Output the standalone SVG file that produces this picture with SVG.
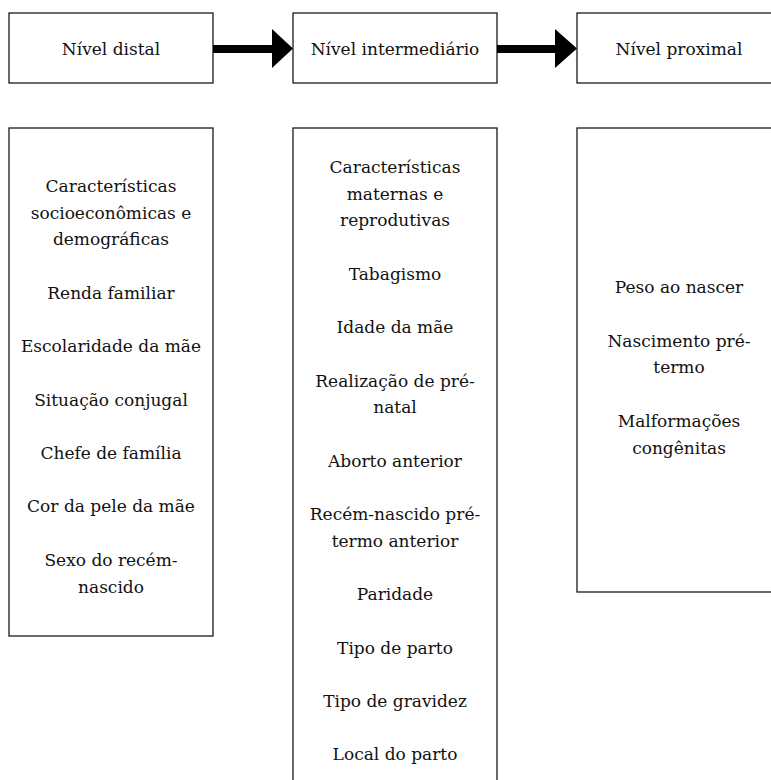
<svg xmlns="http://www.w3.org/2000/svg" width="771" height="780" viewBox="0 0 771 780">
<style>
.box{fill:#fff;stroke:#1a1a1a;stroke-width:1.3}
.t{font-family:"DejaVu Serif","Liberation Serif",serif;font-size:17px;fill:#111;text-anchor:middle}
.arr{fill:#000}
</style>
<rect width="771" height="780" fill="#fff"/>
<g id="node-distal">
<rect class="box" x="9" y="13" width="204" height="70"/>
<text class="t" x="111" y="55">Nível distal</text>
</g>
<g id="node-intermediario">
<rect class="box" x="293" y="13" width="204" height="70"/>
<text class="t" x="395" y="55">Nível intermediário</text>
</g>
<g id="node-proximal">
<rect class="box" x="577" y="13" width="204" height="70"/>
<text class="t" x="679" y="55">Nível proximal</text>
</g>
<g id="list-distal">
<rect class="box" x="9" y="128" width="204" height="508"/>
<text class="t" x="111" y="192">Características</text>
<text class="t" x="111" y="218.7">socioeconômicas e</text>
<text class="t" x="111" y="245.4">demográficas</text>
<text class="t" x="111" y="298.8">Renda familiar</text>
<text class="t" x="111" y="352.2">Escolaridade da mãe</text>
<text class="t" x="111" y="405.6">Situação conjugal</text>
<text class="t" x="111" y="459">Chefe de família</text>
<text class="t" x="111" y="512.4">Cor da pele da mãe</text>
<text class="t" x="111" y="565.8">Sexo do recém-</text>
<text class="t" x="111" y="592.5">nascido</text>
</g>
<g id="list-intermediario">
<rect class="box" x="293" y="128" width="204" height="670"/>
<text class="t" x="395" y="173">Características</text>
<text class="t" x="395" y="199.7">maternas e</text>
<text class="t" x="395" y="226.4">reprodutivas</text>
<text class="t" x="395" y="279.8">Tabagismo</text>
<text class="t" x="395" y="333.2">Idade da mãe</text>
<text class="t" x="395" y="386.6">Realização de pré-</text>
<text class="t" x="395" y="413.3">natal</text>
<text class="t" x="395" y="466.7">Aborto anterior</text>
<text class="t" x="395" y="520.1">Recém-nascido pré-</text>
<text class="t" x="395" y="546.8">termo anterior</text>
<text class="t" x="395" y="600.2">Paridade</text>
<text class="t" x="395" y="653.6">Tipo de parto</text>
<text class="t" x="395" y="707">Tipo de gravidez</text>
<text class="t" x="395" y="760.4">Local do parto</text>
</g>
<g id="list-proximal">
<rect class="box" x="577" y="128" width="204" height="464"/>
<text class="t" x="679" y="293.3">Peso ao nascer</text>
<text class="t" x="679" y="346.7">Nascimento pré-</text>
<text class="t" x="679" y="373.4">termo</text>
<text class="t" x="679" y="426.8">Malformações</text>
<text class="t" x="679" y="453.5">congênitas</text>
</g>
<g id="connectors">
<polygon class="arr" points="213,45 272,45 272,29 293,48.5 272,68 272,53 213,53"/>
<polygon class="arr" points="497,45 555,45 555,29 577,48.5 555,68 555,53 497,53"/>
</g>
</svg>
